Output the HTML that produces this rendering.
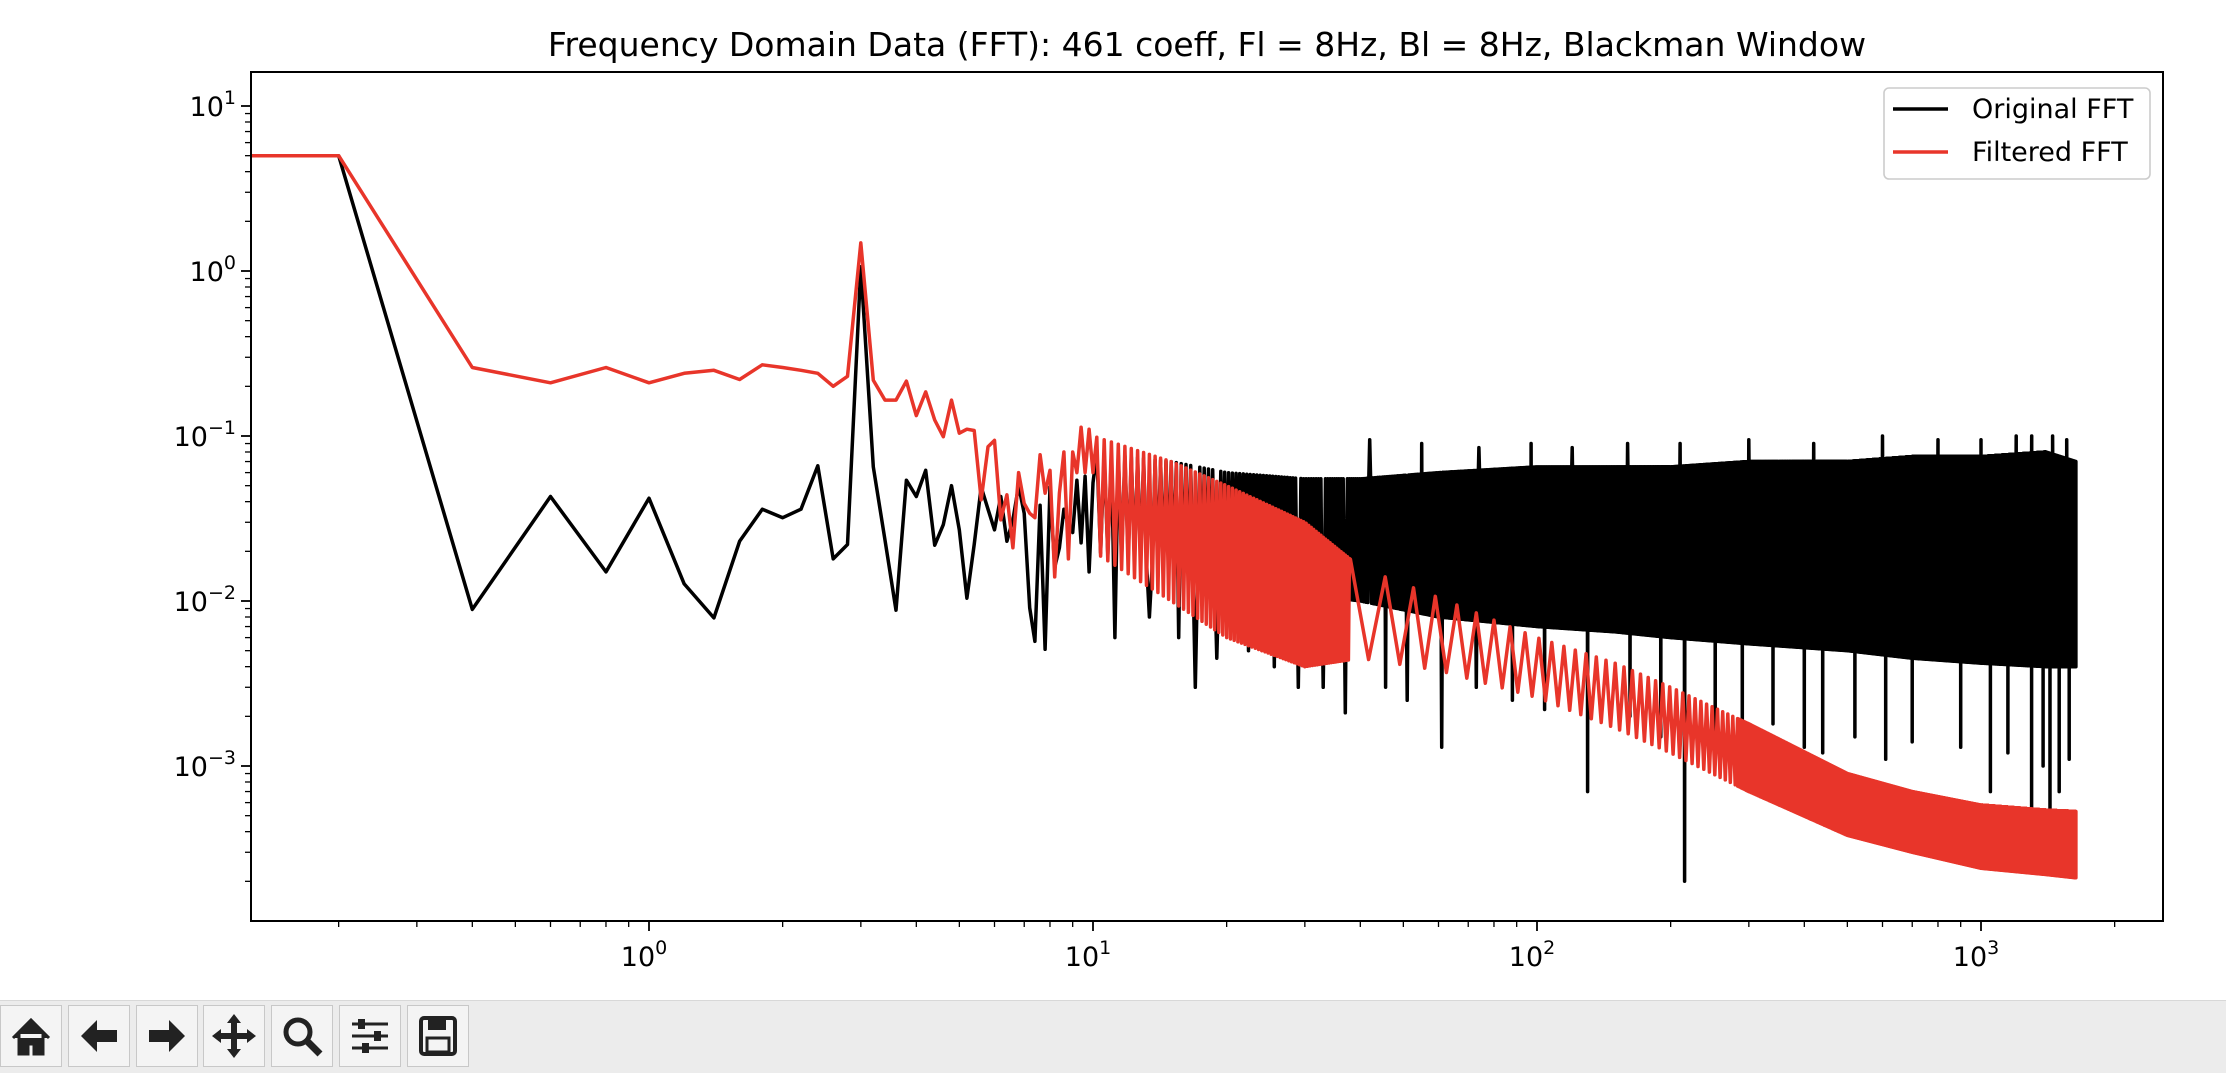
<!DOCTYPE html>
<html><head><meta charset="utf-8">
<style>
html,body{margin:0;padding:0;background:#fff;}
body{width:2226px;height:1072px;overflow:hidden;position:relative;font-family:"DejaVu Sans","Liberation Sans",sans-serif;}
#toolbar{position:absolute;left:0;top:1000px;width:2226px;height:72px;background:#ececec;border-top:1px solid #d8d8d8;}
.tb{position:absolute;top:4px;width:62px;height:62px;background:#f4f4f4;border:1px solid #c8c8c8;box-sizing:border-box;}
</style></head>
<body>
<svg id="chart" width="2226" height="1000" style="position:absolute;left:0;top:0" xmlns="http://www.w3.org/2000/svg">
<defs><clipPath id="plotclip"><rect x="251" y="72" width="1912" height="849"/></clipPath></defs>
<text x="1207" y="56" text-anchor="middle" font-size="33" font-family="DejaVu Sans, Liberation Sans, sans-serif">Frequency Domain Data (FFT): 461 coeff, Fl = 8Hz, Bl = 8Hz, Blackman Window</text>
<g id="ticks"></g>
<g id="series" clip-path="url(#plotclip)"></g>
<rect x="251" y="72" width="1912" height="849" fill="none" stroke="#000" stroke-width="2"/>
<g>
<rect x="1884" y="88" width="266" height="91" rx="5" fill="#fff" fill-opacity="0.8" stroke="#ccc" stroke-width="1.6"/>
<line x1="1893" y1="109" x2="1948" y2="109" stroke="#000" stroke-width="3.5"/>
<text x="1972" y="118" font-size="27">Original FFT</text>
<line x1="1893" y1="152" x2="1948" y2="152" stroke="#e8352a" stroke-width="3.5"/>
<text x="1972" y="161" font-size="27">Filtered FFT</text>
</g>
</svg>
<div id="toolbar">
<div class="tb" style="left:0px"><svg width="60" height="60"><path d="M12 32 L30 14 L48 32 M18 28 V48 H27 V38 H33 V48 H42 V28" fill="#222" stroke="#222" stroke-width="3"/></svg></div>
<div class="tb" style="left:68px"><svg width="60" height="60"><path d="M12 30 L28 14 V24 H48 V36 H28 V46 Z" fill="#222"/></svg></div>
<div class="tb" style="left:136px"><svg width="60" height="60"><path d="M48 30 L32 14 V24 H12 V36 H32 V46 Z" fill="#222"/></svg></div>
<div class="tb" style="left:203px"><svg width="60" height="60"><path d="M30 8 L37 17 H33 V27 H43 V23 L52 30 L43 37 V33 H33 V43 H37 L30 52 L23 43 H27 V33 H17 V37 L8 30 L17 23 V27 H27 V17 H23 Z" fill="#222"/></svg></div>
<div class="tb" style="left:271px"><svg width="60" height="60"><circle cx="26" cy="26" r="12" fill="none" stroke="#222" stroke-width="5"/><line x1="35" y1="35" x2="48" y2="48" stroke="#222" stroke-width="7"/></svg></div>
<div class="tb" style="left:339px"><svg width="60" height="60"><g stroke="#222" stroke-width="3"><line x1="12" y1="18" x2="48" y2="18"/><line x1="12" y1="30" x2="48" y2="30"/><line x1="12" y1="42" x2="48" y2="42"/></g><rect x="18" y="13" width="7" height="10" fill="#222"/><rect x="34" y="25" width="7" height="10" fill="#222"/><rect x="22" y="37" width="7" height="10" fill="#222"/></svg></div>
<div class="tb" style="left:407px"><svg width="60" height="60"><rect x="13" y="12" width="34" height="36" rx="3" fill="none" stroke="#222" stroke-width="4"/><rect x="20" y="13" width="18" height="11" fill="#222"/><rect x="19" y="32" width="22" height="14" fill="none" stroke="#222" stroke-width="3"/></svg></div>
</div>
<script>
// ---- data ----
const lowFreqStep = 0.2;
const blackLow = [5,0.0089,0.043,0.015,0.042,0.0127,0.0079,0.023,0.036,0.032,0.036,0.066,0.018,0.022,
 1.06,0.065,0.0234,0.0088,0.054,0.043,0.062,0.0218,0.029,0.05,0.027,0.0104,0.022,0.049,0.036,0.027,0.043,0.023,0.031,0.05,0.034,0.0091,0.0057,0.038,0.0051,0.049,0.016,0.021,0.036,0.029,0.026,0.054,0.0225,0.057,0.015,0.052];
const redLow = [5,0.26,0.21,0.26,0.21,0.24,0.25,0.22,0.27,0.26,0.25,0.24,0.2,0.23,
 1.48,0.218,0.165,0.165,0.215,0.133,0.185,0.125,0.099,0.165,0.104,0.11,0.108,0.041,0.086,0.094,0.031,0.044,0.021,0.06,0.039,0.034,0.032,0.077,0.045,0.062,0.014,0.045,0.08,0.018,0.08,0.06,0.113,0.06,0.11,0.06];
const envFreqs   = [10,15,20,30,40,60,100,150,200,300,500,700,1000,1400,1636];
const blackUpper = [0.08,0.07,0.06,0.055,0.055,0.06,0.065,0.065,0.065,0.07,0.07,0.075,0.075,0.08,0.07];
const blackLower = [0.02,0.016,0.013,0.011,0.01,0.008,0.007,0.0065,0.006,0.0055,0.005,0.0045,0.0042,0.004,0.004];
const redUpper   = [0.1,0.07,0.05,0.03,0.016,0.0105,0.006,0.0042,0.003,0.0018,0.0009,0.0007,0.00058,0.00054,0.00053];
const redLower   = [0.02,0.01,0.006,0.004,0.0045,0.0038,0.0026,0.0017,0.0012,0.0007,0.00038,0.0003,0.00024,0.00022,0.00021];
// red side-lobe peak frequencies (Hz), beyond which the band is solid
const redLobePeaks = [38,45.5,52.7,59,66,73,80,87,94,101,108,115,122,129,136,143,150,157,164,171,178,185,192,199,206,213,220,227,234,241,248,255,262,269,276,283];
// isolated deep dips / tall spikes of the original FFT
const spikeFreqs = [11.2,13.4,15.6,17,19,22.4,25.6,29,33,37,45.6,51,61,73,88,104,130,162,190,215,252,290,340,400,440,520,610,700,800,900,1050,1150,1300,1380,1430,1500,1580,
                    42,55,74,97,120,160,210,300,420,600,800,1000,1200,1300.4,1450,1560];
const spikeVals  = [0.006,0.008,0.006,0.003,0.0045,0.005,0.004,0.003,0.003,0.0021,0.003,0.0025,0.0013,0.003,0.0025,0.0022,0.0007,0.002,0.0015,0.0002,0.0016,0.0012,0.0018,0.0013,0.0012,0.0015,0.0011,0.0014,0.001,0.0013,0.0007,0.0012,0.0004,0.001,0.00022,0.0007,0.0011,
                    0.095,0.09,0.085,0.09,0.085,0.09,0.09,0.095,0.09,0.1,0.095,0.095,0.1,0.1,0.1,0.095];
const maxFreq = 1636;
const xTickVals = [0,1,2,3];
const yTickVals = [-3,-2,-1,0,1];

// ---- axes ----
const X0=649, XD=444, Y0=271, YD=165, L=251, R=2163, T=72, B=921;
const xs = f => X0 + XD*Math.log10(f);
const ys = v => Y0 - YD*Math.log10(v);
const NS='http://www.w3.org/2000/svg';
function mk(tag, attrs, parent){const e=document.createElementNS(NS,tag);for(const k in attrs)e.setAttribute(k,attrs[k]);parent.appendChild(e);return e;}
const ticks=document.getElementById('ticks');
for(let d=-1; d<=3; d++){
  for(let m=1;m<10;m++){
    const x=xs(m*Math.pow(10,d)); if(x<L||x>R) continue;
    const ln=mk('line',{x1:x,x2:x,y1:B,y2:B+(m===1?10:6),stroke:'#000','stroke-width':m===1?1.8:1.3},ticks);
    
    
  }
}
for(let d=-4; d<=1; d++){
  for(let m=1;m<10;m++){
    const y=ys(m*Math.pow(10,d)); if(y<T||y>B) continue;
    const ln=mk('line',{x1:L,x2:L-(m===1?10:6),y1:y,y2:y,stroke:'#000','stroke-width':m===1?1.8:1.3},ticks);
    
    
  }
}
xTickVals.forEach(p=>{
  const t=mk('text',{x:xs(Math.pow(10,p))-5,y:966,'text-anchor':'middle','font-size':27},ticks);
  
  
  t.textContent='10';
  const s=mk('tspan',{dy:-12,'font-size':19},t); s.textContent=String(p);
});
yTickVals.forEach(p=>{
  const t=mk('text',{x:236,y:ys(Math.pow(10,p))+10,'text-anchor':'end','font-size':27},ticks);
  
  
  t.textContent='10';
  const s=mk('tspan',{dy:-12,'font-size':19},t); s.textContent=p<0?'\u2212'+(-p):String(p);
});

// ---- series ----
function envAt(arr,f){
  const lf=Math.log10(f);
  for(let i=0;i<envFreqs.length-1;i++){
    const a=Math.log10(envFreqs[i]), b=Math.log10(envFreqs[i+1]);
    if(lf<=b){const t=Math.max(0,(lf-a)/(b-a));return Math.pow(10,Math.log10(arr[i])*(1-t)+Math.log10(arr[i+1])*t);}
  }
  return arr[arr.length-1];
}
const fmt = p => p[0].toFixed(1)+','+p[1].toFixed(1);
function lowPts(low){
  const pts=[[xs(0.1), ys(low[0])]];
  low.forEach((v,i)=>pts.push([xs((i+1)*lowFreqStep), ys(v)]));
  return pts;
}
function blackSeries(){
  const pts=lowPts(blackLow);
  const spikeIdx={};
  spikeFreqs.forEach((f,i)=>{spikeIdx[Math.round(f/lowFreqStep)]=spikeVals[i];});
  const kStart=blackLow.length+1, kEnd=Math.round(maxFreq/lowFreqStep);
  for(let k=kStart;k<=kEnd;k++){
    const f=k*lowFreqStep;
    let v=(k%2)?envAt(blackUpper,f):envAt(blackLower,f);
    if(spikeIdx[k]!==undefined) v=spikeIdx[k];
    pts.push([xs(f), ys(v)]);
  }
  return pts.map(fmt).join(' ');
}
function redSeries(){
  const pts=lowPts(redLow);
  const first=redLobePeaks[0], last=redLobePeaks[redLobePeaks.length-1];
  const kStart=redLow.length+1, kEnd=Math.round(maxFreq/lowFreqStep);
  for(let k=kStart;k*lowFreqStep<first;k++){
    const f=k*lowFreqStep;
    pts.push([xs(f), ys((k%2)?envAt(redUpper,f):envAt(redLower,f))]);
  }
  for(let i=0;i<redLobePeaks.length;i++){
    const f=redLobePeaks[i];
    pts.push([xs(f), ys(envAt(redUpper,f))]);
    if(i<redLobePeaks.length-1){
      const m=(f+redLobePeaks[i+1])/2;
      pts.push([xs(m), ys(envAt(redLower,m))]);
    }
  }
  for(let k=Math.ceil(last/lowFreqStep)+1;k<=kEnd;k++){
    const f=k*lowFreqStep;
    pts.push([xs(f), ys((k%2)?envAt(redUpper,f):envAt(redLower,f))]);
  }
  return pts.map(fmt).join(' ');
}
const g=document.getElementById('series');
const bl=mk('polyline',{points:blackSeries(),fill:'none',stroke:'#000','stroke-width':3.5,'stroke-linejoin':'round'},g);


const rl=mk('polyline',{points:redSeries(),fill:'none',stroke:'#e8352a','stroke-width':3.5,'stroke-linejoin':'round'},g);


</script>
</body></html>
